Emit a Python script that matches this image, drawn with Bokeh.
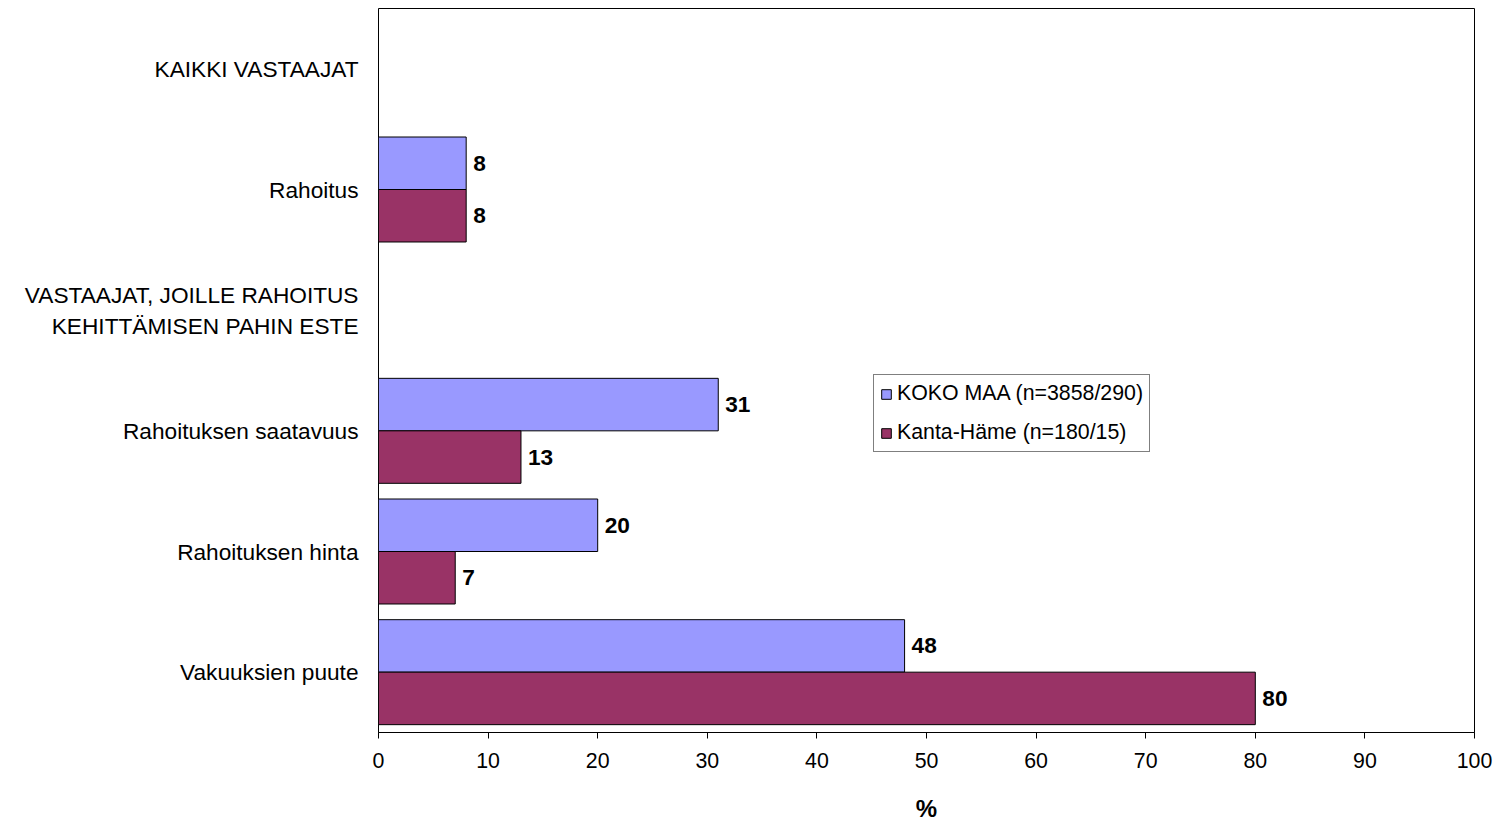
from bokeh.plotting import figure
from bokeh.models import Range1d, FixedTicker, ColumnDataSource, Legend, LegendItem, LabelSet
from bokeh.core.properties import value
from bokeh.embed import file_html
from bokeh.resources import INLINE

categories = ["KAIKKI VASTAAJAT", "Rahoitus", "VASTAAJAT, JOILLE RAHOITUS\nKEHITTÄMISEN PAHIN ESTE",
              "Rahoituksen saatavuus", "Rahoituksen hinta", "Vakuuksien puute"]
koko_maa = [None, 8, None, 31, 20, 48]
kanta_hame = [None, 8, None, 13, 7, 80]
series_names = ["KOKO MAA (n=3858/290)", "Kanta-Häme (n=180/15)"]
x_ticks = list(range(0, 101, 10))

n = len(categories)
centers = [n - 0.5 - i for i in range(n)]

p = figure(width=1499, height=830, output_backend="svg", toolbar_location=None,
           x_range=Range1d(0, 100), y_range=Range1d(0, n),
           min_border_left=378, min_border_right=25, min_border_top=8, min_border_bottom=98)
p.outline_line_color = "#000000"
p.grid.visible = False

def rows(vals, offset):
    ys, xs, labels = [], [], []
    for c, v in zip(centers, vals):
        if v is not None:
            ys.append(c + offset); xs.append(v); labels.append(str(v))
    return ColumnDataSource(dict(y=ys, x=xs, label=labels))

h = 0.435
s1 = rows(koko_maa, h / 2)
s2 = rows(kanta_hame, -h / 2)
r1 = p.hbar(y="y", right="x", left=0, height=h, source=s1, fill_color="#9999FF", line_color="black")
r2 = p.hbar(y="y", right="x", left=0, height=h, source=s2, fill_color="#993366", line_color="black")
for s in (s1, s2):
    p.add_layout(LabelSet(x="x", y="y", text="label", source=s, x_offset=7, text_baseline="middle",
                          text_font=value("Liberation Sans"), text_font_size="17pt",
                          text_font_style="bold", text_color="black"))

p.yaxis.ticker = FixedTicker(ticks=centers)
p.yaxis.major_label_overrides = {c: lab for c, lab in zip(centers, categories)}
p.yaxis.major_tick_line_color = None
p.yaxis.minor_tick_line_color = None
p.yaxis.axis_line_color = None
p.yaxis.major_label_text_font = "Liberation Sans"
p.yaxis.major_label_text_font_size = "17pt"
p.yaxis.major_label_text_color = "black"
p.yaxis.major_label_text_align = "right"
p.yaxis.major_label_standoff = 14

p.xaxis.ticker = FixedTicker(ticks=x_ticks)
p.xaxis.minor_tick_line_color = None
p.xaxis.major_tick_in = 0
p.xaxis.major_tick_out = 6
p.xaxis.major_label_text_font = "Liberation Sans"
p.xaxis.major_label_text_font_size = "16pt"
p.xaxis.major_label_text_color = "black"
p.xaxis.major_label_standoff = 14
p.xaxis.axis_label = "%"
p.xaxis.axis_label_text_font = "Liberation Sans"
p.xaxis.axis_label_text_font_size = "18pt"
p.xaxis.axis_label_text_font_style = "bold"
p.xaxis.axis_label_text_color = "black"
p.xaxis.axis_label_standoff = 24

legend = Legend(items=[LegendItem(label=series_names[0], renderers=[r1]),
                       LegendItem(label=series_names[1], renderers=[r2])],
                location=(495, 280), border_line_color="black", label_text_font="Liberation Sans",
                label_text_font_size="16pt", label_text_color="black", glyph_width=12, glyph_height=12,
                spacing=14, padding=6, margin=0, label_standoff=5)
p.add_layout(legend)

open("out.html", "w").write(file_html(p, INLINE))
